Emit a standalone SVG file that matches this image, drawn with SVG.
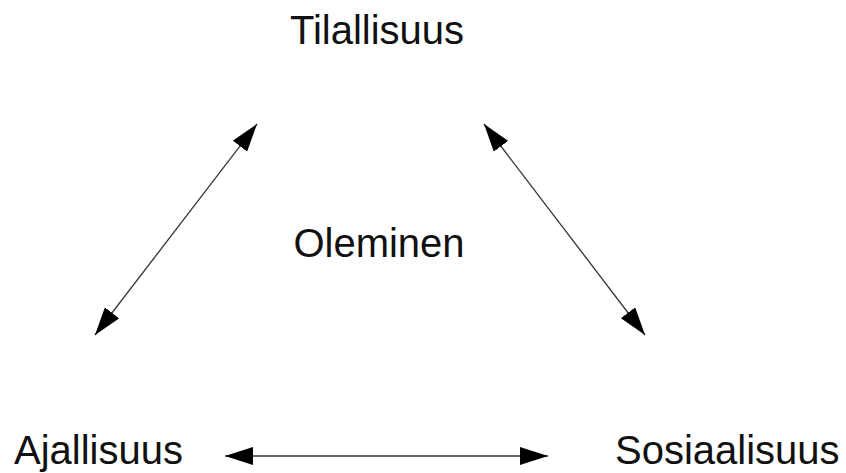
<svg xmlns="http://www.w3.org/2000/svg" width="846" height="473" viewBox="0 0 846 473">
<style>
.lbl{font-family:"Liberation Sans",Arial,sans-serif;font-size:40px;fill:#111;}
.conn{stroke:#333;stroke-width:1.3;fill:none;marker-start:url(#ah);marker-end:url(#ah);}
</style>
<defs>
<marker id="ah" markerUnits="userSpaceOnUse" markerWidth="28" markerHeight="18" refX="28" refY="9" orient="auto-start-reverse" viewBox="0 0 28 18">
<path d="M0,0 L28,9 L0,18 z" fill="#000"/>
</marker>
</defs>
<rect width="846" height="473" fill="#fff"/>
<g id="connectors">
<line class="conn" x1="95" y1="335" x2="257" y2="124"/>
<line class="conn" x1="484" y1="124" x2="645" y2="335"/>
<line class="conn" x1="225" y1="456" x2="548" y2="456"/>
</g>
<g id="tilallisuus"><text class="lbl" x="377" y="44" text-anchor="middle">Tilallisuus</text></g>
<g id="oleminen"><text class="lbl" x="379" y="257" text-anchor="middle">Oleminen</text></g>
<g id="ajallisuus"><text class="lbl" x="14" y="464">Ajallisuus</text></g>
<g id="sosiaalisuus"><text class="lbl" x="615" y="464">Sosiaalisuus</text></g>
</svg>
